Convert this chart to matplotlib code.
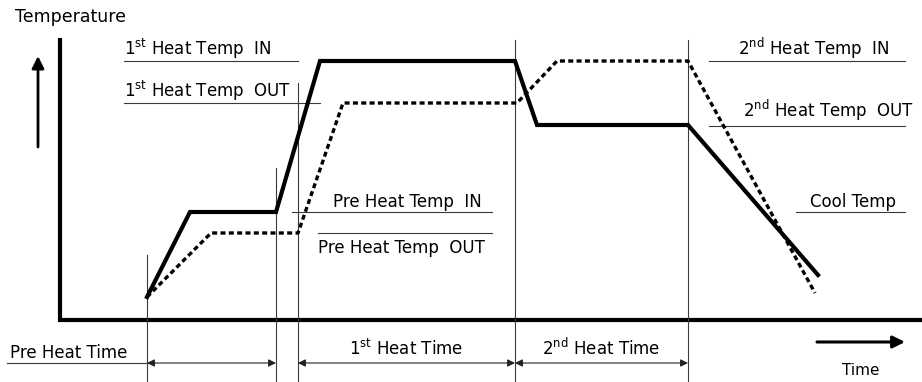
import matplotlib.pyplot as plt

plt.rcParams['font.family'] = ['DejaVu Sans']
plt.rcParams['mathtext.fontset'] = 'custom'
plt.rcParams['mathtext.rm'] = 'DejaVu Sans'

# profile of the reflow oven (time, temperature), arbitrary units
time_in = [147, 190, 276, 320, 515, 537, 688, 818]
temp_in = [85, 170, 170, 321, 321, 257, 257, 107]
time_out = [147, 211, 298, 343, 517, 557, 688, 815]
temp_out = [85, 149, 149, 279, 279, 321, 321, 89]

# zone boundaries on the time axis
zone_edges = [147, 276, 298, 515, 688]
zone_tops = [127, 214, 299, 342, 342]

# temperature set points
temp_labels = ['1$^{\\rm st}$ Heat Temp  IN', '1$^{\\rm st}$ Heat Temp  OUT',
               'Pre Heat Temp  IN', 'Pre Heat Temp  OUT',
               '2$^{\\rm nd}$ Heat Temp  IN', '2$^{\\rm nd}$ Heat Temp  OUT',
               'Cool Temp']
temp_levels = [321, 279, 170, 149, 321, 256, 170]
line_x0 = [124, 124, 292, 318, 709, 709, 796]
line_x1 = [298, 320, 492, 492, 905, 905, 905]
text_x = [124, 124, 333, 318, 738, 743, 810]
text_dy = [6, 6, 5, -20, 6, 9, 5]

time_labels = ['1$^{\\rm st}$ Heat Time', '2$^{\\rm nd}$ Heat Time']
axis_y = 62
arrow_y = 19

fig = plt.figure(figsize=(9.22, 3.82), dpi=100)
ax = fig.add_axes([0, 0, 1, 1])
ax.set_xlim(0, 922)
ax.set_ylim(0, 382)
ax.axis('off')

thin = dict(color='#3a3a3a', lw=0.8)
fs = 12

# axes of the sketch
ax.plot([60, 60, 922], [344, axis_y, axis_y], color='black', lw=3,
        solid_joinstyle='miter', solid_capstyle='butt')
ax.annotate('', xy=(38, 326), xytext=(38, 235),
            arrowprops=dict(arrowstyle='-|>', color='black', lw=2,
                            mutation_scale=18, shrinkA=0, shrinkB=0))
ax.text(15, 360, 'Temperature', fontsize=12.5, va='baseline')

# zone boundaries
for x, top in zip(zone_edges, zone_tops):
    ax.plot([x, x], [0, top], **thin)

# set point lines and labels
for lab, lev, x0, x1, tx, dy in zip(temp_labels, temp_levels, line_x0,
                                    line_x1, text_x, text_dy):
    ax.plot([x0, x1], [lev, lev], **thin)
    ax.text(tx, lev + dy, lab, fontsize=fs, va='baseline')

# temperature curves
ax.plot(time_in, temp_in, color='black', lw=3, solid_joinstyle='miter')
ax.plot(time_out, temp_out, color='black', lw=2.4, linestyle=(0, (1.5, 1.0)))

# time spans
ax.plot([7, zone_edges[0]], [arrow_y, arrow_y], **thin)
ax.text(10, arrow_y + 5, 'Pre Heat Time', fontsize=fs, va='baseline')
spans = [(zone_edges[0], zone_edges[1]), (zone_edges[2], zone_edges[3]),
         (zone_edges[3], zone_edges[4])]
for a, b in spans:
    ax.annotate('', xy=(b, arrow_y), xytext=(a, arrow_y),
                arrowprops=dict(arrowstyle='<|-|>', color='#222222', lw=0.8,
                                mutation_scale=11, shrinkA=0, shrinkB=0))
for (a, b), lab in zip(spans[1:], time_labels):
    ax.text((a + b) / 2, arrow_y + 8, lab, fontsize=fs, ha='center',
            va='baseline')

# time direction
ax.annotate('', xy=(905, 40), xytext=(817, 40),
            arrowprops=dict(arrowstyle='-|>', color='black', lw=2.2,
                            mutation_scale=18, shrinkA=0, shrinkB=0))
ax.text(861, 7, 'Time', fontsize=11, ha='center', va='baseline')

fig.savefig('out.png', dpi=100)
